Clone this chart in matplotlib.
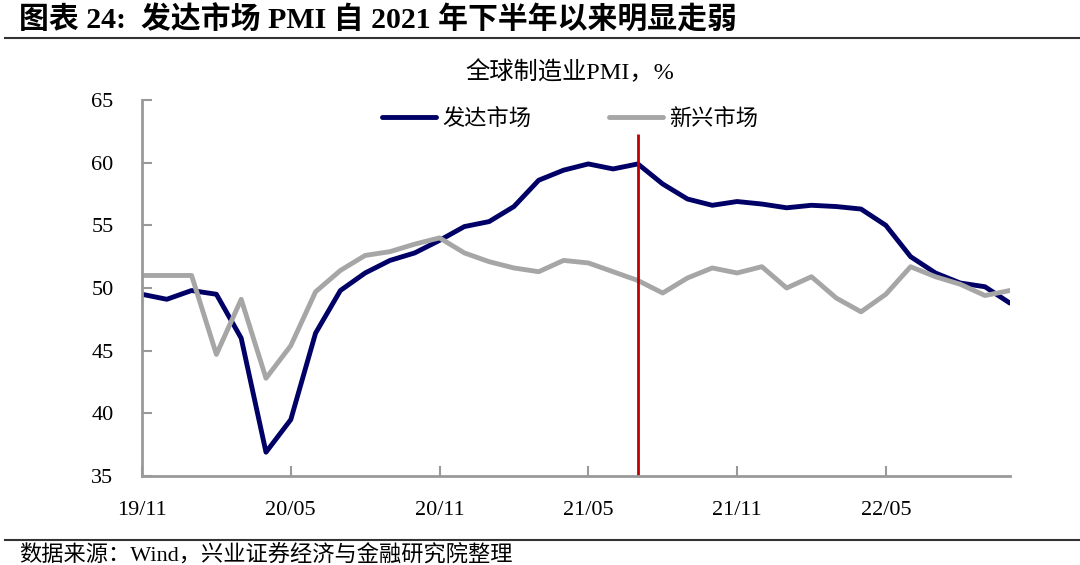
from matplotlib import pyplot as plt
from matplotlib.lines import Line2D
import pandas as pd

months = pd.date_range('2019-11-01', periods=36, freq='MS').strftime('%y/%m').tolist()

developed = [49.5, 49.1, 49.8, 49.5, 46.0, 36.9, 39.5, 46.4, 49.8, 51.2, 52.2, 52.8,
             53.8, 54.9, 55.3, 56.5, 58.6, 59.4, 59.9, 59.5, 59.9, 58.3, 57.1, 56.6,
             56.9, 56.7, 56.4, 56.6, 56.5, 56.3, 55.0, 52.5, 51.2, 50.4, 50.1, 48.8]
emerging = [51.0, 51.0, 51.0, 44.7, 49.1, 42.8, 45.4, 49.7, 51.4, 52.6, 52.9, 53.5,
            54.0, 52.8, 52.1, 51.6, 51.3, 52.2, 52.0, 51.3, 50.6, 49.6, 50.8, 51.6,
            51.2, 51.7, 50.0, 50.9, 49.2, 48.1, 49.5, 51.7, 50.9, 50.3, 49.4, 49.8]
mark_month = '21/07'

serif = ['Liberation Serif', 'Noto Sans CJK SC']
cjk = ['Noto Sans CJK SC', 'DejaVu Sans']
plt.rcParams['font.family'] = serif

fig = plt.figure(figsize=(10.8, 5.65), dpi=100)
ax = fig.add_axes([0.1315, 0.1575, 0.8035, 0.6655])

x = list(range(len(months)))
ax.plot(x, developed, color='#000066', lw=3.5, label='发达市场', solid_capstyle='round')
ax.plot(x, emerging, color='#a6a6a6', lw=3.5, label='新兴市场', solid_capstyle='round')
ax.vlines(months.index(mark_month), 35, 62.3, color='#c00000', lw=2)

ax.set_xlim(0, len(months) - 1)
ax.set_ylim(35, 65)
ax.set_yticks(range(35, 66, 5))
ax.set_xticks(x[::6])
ax.set_xticklabels(months[::6])
ax.tick_params(direction='in', length=7, width=1.5, color='#999999', labelsize=16, pad=18)
ax.tick_params(axis='y', pad=20.5)
for s in ['top', 'right']:
    ax.spines[s].set_visible(False)
for s in ['left', 'bottom']:
    ax.spines[s].set_color('#999999')
    ax.spines[s].set_linewidth(2)

leg = ax.legend(loc='upper center', bbox_to_anchor=(0.493, 1.035), ncol=2, frameon=False,
                prop={'family': cjk, 'size': 16}, handlelength=2.45, columnspacing=3.5,
                handletextpad=0.25)

fig.text(0.018, 0.965, '图表 24:  发达市场 PMI 自 2021 年下半年以来明显走弱', fontsize=21.5,
         fontweight='bold', va='center', ha='left', family=serif)
fig.text(0.528, 0.872, '全球制造业PMI，%', fontsize=17.5, va='center', ha='center', family=serif)
fig.text(0.018, 0.017, '数据来源：Wind，兴业证券经济与金融研究院整理', fontsize=16,
         va='center', ha='left', family=serif)

fig.add_artist(Line2D([0.005, 1.0], [0.933, 0.933], color='#333333', lw=1.5))
fig.add_artist(Line2D([0.005, 1.0], [0.044, 0.044], color='#333333', lw=1.5))

plt.savefig('out.png', dpi=100)
